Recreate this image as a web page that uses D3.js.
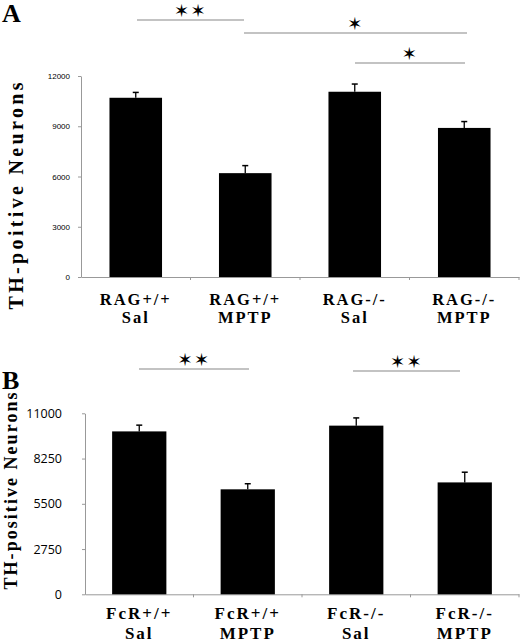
<!DOCTYPE html>
<html><head><meta charset="utf-8">
<script src="https://cdn.jsdelivr.net/npm/d3@7"></script>
<style>body{margin:0;background:#fff}svg{display:block}</style>
</head><body>
<script>
// Panel A data
const catsA = [["RAG+/+","Sal"],["RAG+/+","MPTP"],["RAG-/-","Sal"],["RAG-/-","MPTP"]];
const valuesA = [10700, 6200, 11060, 8900];
const errorsA = [320, 450, 460, 380];
const ticksA = [0, 3000, 6000, 9000, 12000];
// Panel B data
const catsB = [["FcR+/+","Sal"],["FcR+/+","MPTP"],["FcR-/-","Sal"],["FcR-/-","MPTP"]];
const valuesB = [9900, 6380, 10250, 6800];
const errorsB = [380, 340, 470, 620];
const ticksB = [0, 2750, 5500, 8250, 11000];
// significance brackets: [from index, to index, label]
const sigA = [[0,1,"✶✶"],[1,3,"✶"],[2,3,"✶"]];
const sigB = [[0,1,"✶✶"],[2,3,"✶✶"]];

const svg = d3.select("body").append("svg").attr("width",520).attr("height",641);

function panel(cfg){
  const g = svg.append("g");
  const x = d3.scaleBand().domain(d3.range(cfg.vals.length)).range([cfg.x0,cfg.x1]).paddingInner(cfg.pad).paddingOuter(cfg.pad/2);
  const xb = d3.scaleBand().domain(d3.range(cfg.vals.length)).range([cfg.x0,cfg.x1]);
  const y = d3.scaleLinear().domain([0,cfg.ticks[cfg.ticks.length-1]]).range([cfg.y0,cfg.y1]);
  // y axis
  const ya = g.append("g").attr("transform",`translate(${cfg.x0},0)`)
    .call(d3.axisLeft(y).tickValues(cfg.ticks).tickFormat(d3.format("d")).tickSize(3).tickPadding(cfg.tpad).tickSizeOuter(0));
  ya.select(".domain").attr("stroke","#999");
  ya.selectAll(".tick line").attr("stroke","#999");
  ya.selectAll("text").attr("font-family",cfg.tfont).attr("font-size",cfg.tsize).attr("fill","#000");
  // x axis
  const xa = g.append("g").attr("transform",`translate(0,${cfg.y0})`)
    .call(d3.axisBottom(xb).tickSize(0).tickFormat(""));
  xa.select(".domain").attr("stroke","#999");
  xb.domain().forEach(i=>{
    const bx = xb(i)+xb.bandwidth();
    g.append("line").attr("x1",bx).attr("x2",bx).attr("y1",cfg.y0).attr("y2",cfg.y0+3).attr("stroke","#999");
  });
  // bars
  g.selectAll("rect.bar").data(cfg.vals).join("rect")
    .attr("x",(d,i)=>x(i)).attr("width",x.bandwidth())
    .attr("y",d=>y(d)).attr("height",d=>cfg.y0-y(d)).attr("fill","#000");
  // error bars
  cfg.vals.forEach((v,i)=>{
    const cx = x(i)+x.bandwidth()/2;
    g.append("line").attr("x1",cx).attr("x2",cx).attr("y1",y(v)).attr("y2",y(v+cfg.errs[i])).attr("stroke","#000").attr("stroke-width",1.3);
    g.append("line").attr("x1",cx-3).attr("x2",cx+3).attr("y1",y(v+cfg.errs[i])).attr("y2",y(v+cfg.errs[i])).attr("stroke","#000").attr("stroke-width",1.5);
  });
  // category labels
  cfg.cats.forEach((c,i)=>{
    const cx = xb(i)+xb.bandwidth()/2;
    c.forEach((t,k)=>{
      g.append("text").attr("x",cx).attr("y",cfg.ly+k*cfg.lgap).attr("text-anchor","middle")
        .attr("font-family","Liberation Serif, serif").attr("font-weight","bold").attr("font-size",cfg.lsize)
        .attr("letter-spacing","2px").text(t);
    });
  });
  // y title
  g.append("text").attr("transform",`translate(${cfg.titleX},${cfg.titleY}) rotate(-90)`)
    .attr("text-anchor","middle").attr("font-family","Liberation Serif, serif").attr("font-weight","bold")
    .attr("font-size",cfg.titleSize).attr("textLength",cfg.titleLen).attr("lengthAdjust","spacing").text(cfg.title);
  // panel letter
  g.append("text").attr("x",2).attr("y",cfg.letterY).attr("font-family","Liberation Serif, serif")
    .attr("font-weight","bold").attr("font-size",26).text(cfg.letter);
  // significance
  cfg.sig.forEach((s,k)=>{
    const pos = cfg.sigPos[k];
    g.append("line").attr("x1",pos[0]).attr("x2",pos[1]).attr("y1",pos[2]).attr("y2",pos[2]).attr("stroke","#888").attr("stroke-width",1.2);
    g.append("text").attr("x",(pos[0]+pos[1])/2).attr("y",pos[2]-10).attr("text-anchor","middle")
      .attr("dominant-baseline","central").attr("letter-spacing","1.5px")
      .attr("font-family","DejaVu Sans").attr("font-size",18).text(s[2]);
  });
}

panel({vals:valuesA, errs:errorsA, cats:catsA, ticks:ticksA, x0:81, x1:519, y0:277, y1:76, pad:0.52,
  tfont:"Liberation Sans, Arial, sans-serif", tsize:8, tpad:8, ly:305, lgap:17.5, lsize:16.5,
  title:"TH-poitive Neurons", titleX:23, titleY:196, titleSize:20, titleLen:227, letter:"A", letterY:22,
  sig:sigA, sigPos:[[137,244,20],[244,467,33],[355,465,63]]});
panel({vals:valuesB, errs:errorsB, cats:catsB, ticks:ticksB, x0:85, x1:519, y0:594.3, y1:413.3, pad:0.5,
  tfont:"Open Sans, sans-serif", tsize:12.5, tpad:20, ly:619, lgap:19.5, lsize:17,
  title:"TH-positive Neurons", titleX:17, titleY:491, titleSize:18, titleLen:197, letter:"B", letterY:389,
  sig:sigB, sigPos:[[139,249,369],[353,460,371]]});
</script>
</body></html>
